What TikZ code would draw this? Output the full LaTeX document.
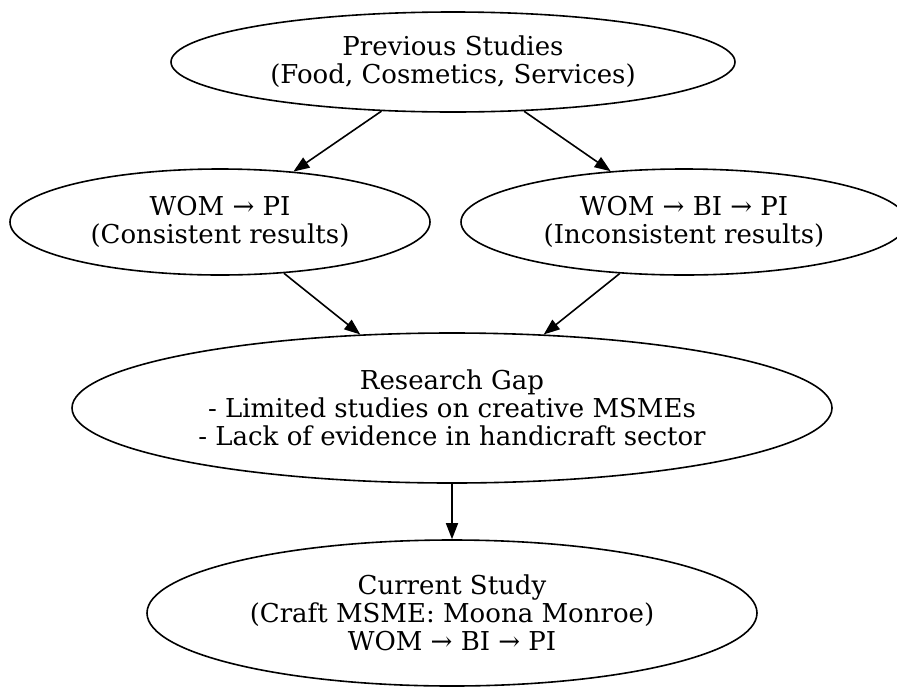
\documentclass[tikz,border=0pt]{standalone}
\usepackage{fontspec}
\setmainfont{DejaVu Serif}
\usetikzlibrary{shapes.geometric,arrows.meta}
\begin{document}
\begin{tikzpicture}[x=1pt,y=-1pt,
  oval/.style={ellipse, draw, line width=1.6pt, inner sep=0pt, align=center,
    font=\fontsize{26}{28}\selectfont},
  link/.style={line width=1.6pt, -{Triangle[length=16pt,width=12pt]}}]
\useasboundingbox (0,0) rectangle (897,686);
\node[oval, minimum width=564pt, minimum height=100pt] (prev) at (453,62)
  {Previous Studies\\(Food, Cosmetics, Services)};
\node[oval, minimum width=420pt, minimum height=106pt] (cons) at (220,222)
  {WOM → PI\\(Consistent results)};
\node[oval, minimum width=446pt, minimum height=106pt] (incons) at (684,222)
  {WOM → BI → PI\\(Inconsistent results)};
\node[oval, minimum width=760pt, minimum height=150pt] (gap) at (452,408)
  {Research Gap\\- Limited studies on creative MSMEs\\- Lack of evidence in handicraft sector};
\node[oval, minimum width=610pt, minimum height=146pt] (cur) at (452,613)
  {Current Study\\(Craft MSME: Moona Monroe)\\WOM → BI → PI};
\draw[link] (prev) -- (cons);
\draw[link] (prev) -- (incons);
\draw[link] (cons) -- (gap);
\draw[link] (incons) -- (gap);
\draw[link] (gap) -- (cur);
\end{tikzpicture}
\end{document}
